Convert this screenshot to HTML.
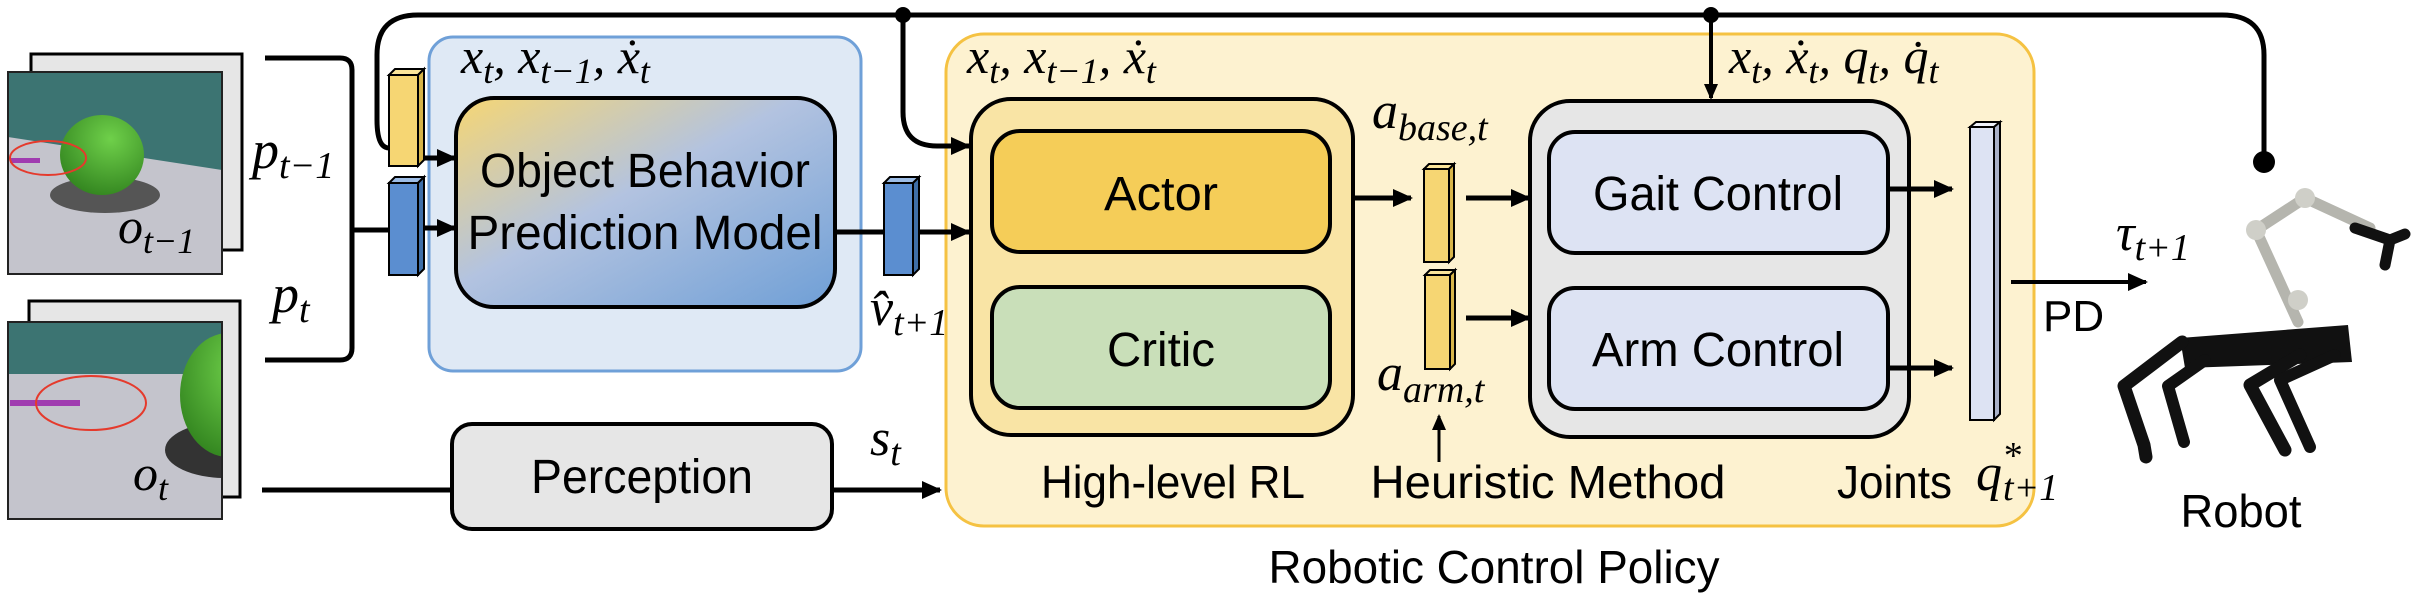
<!DOCTYPE html>
<html><head><meta charset="utf-8"><style>
html,body{margin:0;padding:0;background:#fff;}
svg{display:block;}
.m{font-family:"Liberation Serif",serif;font-style:italic;}
.s{font-family:"Liberation Sans",sans-serif;}
</style></head><body>
<svg width="2412" height="604" viewBox="0 0 2412 604" xmlns="http://www.w3.org/2000/svg">
<defs>
<marker id="ah" markerWidth="20" markerHeight="18" refX="18" refY="9" orient="auto" markerUnits="userSpaceOnUse">
<path d="M0,0 L20,9 L0,18 z" fill="#000"/></marker>
<marker id="ahs" markerWidth="16" markerHeight="14" refX="14" refY="7" orient="auto" markerUnits="userSpaceOnUse">
<path d="M0,0 L16,7 L0,14 z" fill="#000"/></marker>
<linearGradient id="g1" x1="0" y1="0" x2="1" y2="1">
<stop offset="0" stop-color="#f6d673"/><stop offset="0.45" stop-color="#b3c3e0"/><stop offset="1" stop-color="#6f9fd6"/></linearGradient>
<clipPath id="c1"><rect x="8" y="72" width="214" height="202"/></clipPath>
<clipPath id="c2"><rect x="8" y="322" width="214" height="197"/></clipPath>
<radialGradient id="sp" cx="0.6" cy="0.3" r="0.8"><stop offset="0" stop-color="#6fd04a"/><stop offset="1" stop-color="#2e7f1c"/></radialGradient>
</defs>

<!-- image stack 1 -->
<rect x="31" y="54" width="211" height="196" fill="#e6e6e6" stroke="#000" stroke-width="3"/>
<g clip-path="url(#c1)">
<rect x="8" y="72" width="214" height="202" fill="#c4c4cc"/>
<polygon points="8,72 222,72 222,170 8,137" fill="#3c7472"/>
<ellipse cx="105" cy="195" rx="55" ry="18" fill="#555"/>
<ellipse cx="102" cy="155" rx="42" ry="40" fill="url(#sp)"/>
<rect x="10" y="158" width="30" height="5" fill="#a03cb0"/>
<ellipse cx="48" cy="158" rx="38" ry="17" fill="none" stroke="#e53a2c" stroke-width="2"/>
</g>
<rect x="8" y="72" width="214" height="202" fill="none" stroke="#222" stroke-width="2"/>
<text class="m" x="118" y="243" font-size="50">o<tspan font-size="36" dy="10">t−1</tspan></text>

<!-- image stack 2 -->
<rect x="29" y="301" width="211" height="196" fill="#e6e6e6" stroke="#000" stroke-width="3"/>
<g clip-path="url(#c2)">
<rect x="8" y="322" width="214" height="197" fill="#c4c4cc"/>
<rect x="8" y="322" width="214" height="52" fill="#3c7472"/>
<ellipse cx="225" cy="450" rx="60" ry="28" fill="#333"/>
<ellipse cx="228" cy="395" rx="48" ry="62" fill="url(#sp)"/>
<rect x="10" y="400" width="70" height="6" fill="#a03cb0"/>
<ellipse cx="91" cy="403" rx="55" ry="27" fill="none" stroke="#e53a2c" stroke-width="2"/>
</g>
<rect x="8" y="322" width="214" height="197" fill="none" stroke="#222" stroke-width="2"/>
<text class="m" x="133" y="490" font-size="50">o<tspan font-size="36" dy="10">t</tspan></text>

<!-- bracket -->
<path d="M265,58 L340,58 Q352,58 352,70 L352,348 Q352,360 340,360 L265,360" fill="none" stroke="#000" stroke-width="5"/>
<line x1="352" y1="230" x2="389" y2="230" stroke="#000" stroke-width="5"/>
<text class="m" x="252" y="168" font-size="54">p<tspan font-size="38" dy="10">t−1</tspan></text>
<text class="m" x="272" y="312" font-size="54">p<tspan font-size="38" dy="10">t</tspan></text>

<!-- top feedback line -->
<path d="M2222,15 Q2264,15 2264,55 L2264,160" fill="none" stroke="#000" stroke-width="5"/>
<line x1="418" y1="15" x2="2222" y2="15" stroke="#000" stroke-width="5"/>
<circle cx="2264" cy="162" r="11" fill="#000"/>
<circle cx="903" cy="15" r="8" fill="#000"/>
<circle cx="1711" cy="15" r="8" fill="#000"/>
<path d="M418,15 Q377,15 377,55 L377,120 Q377,148 389,148" fill="none" stroke="#000" stroke-width="5"/>

<!-- OBPM container -->
<rect x="429" y="37" width="432" height="334" rx="24" fill="#dfe9f5" stroke="#6fa0d8" stroke-width="3"/>
<text class="m" x="461" y="73" font-size="50">x<tspan font-size="36" dy="10">t</tspan><tspan dy="-10">, x</tspan><tspan font-size="36" dy="10">t−1</tspan><tspan dy="-10">, ẋ</tspan><tspan font-size="36" dy="10">t</tspan></text>
<rect x="456" y="98" width="379" height="209" rx="38" fill="url(#g1)" stroke="#000" stroke-width="4"/>
<text class="s" x="645" y="187" font-size="48" text-anchor="middle" textLength="330" lengthAdjust="spacingAndGlyphs">Object Behavior</text>
<text class="s" x="645" y="249" font-size="48" text-anchor="middle" textLength="355" lengthAdjust="spacingAndGlyphs">Prediction Model</text>

<!-- small blocks left -->
<polygon points="389,75 395,69 424,69 418,75" fill="#fbe59a" stroke="#000" stroke-width="2"/>
<polygon points="418,75 424,69 424,160 418,166" fill="#d7b54a" stroke="#000" stroke-width="2"/>
<rect x="389" y="75" width="29" height="91" fill="#f6d673" stroke="#000" stroke-width="2"/>
<line x1="424" y1="158" x2="455" y2="158" stroke="#000" stroke-width="5" marker-end="url(#ah)"/>
<polygon points="389,183 395,177 424,177 418,183" fill="#9dbde6" stroke="#000" stroke-width="2"/>
<polygon points="418,183 424,177 424,269 418,275" fill="#3f6fa8" stroke="#000" stroke-width="2"/>
<rect x="389" y="183" width="29" height="92" fill="#5b8ed0" stroke="#000" stroke-width="2"/>
<line x1="424" y1="228" x2="455" y2="228" stroke="#000" stroke-width="5" marker-end="url(#ah)"/>

<!-- v hat block -->
<line x1="835" y1="232" x2="884" y2="232" stroke="#000" stroke-width="5"/>
<polygon points="884,183 890,177 919,177 913,183" fill="#9dbde6" stroke="#000" stroke-width="2"/>
<polygon points="913,183 919,177 919,269 913,275" fill="#3f6fa8" stroke="#000" stroke-width="2"/>
<rect x="884" y="183" width="29" height="92" fill="#5b8ed0" stroke="#000" stroke-width="2"/>
<text class="m" x="870" y="325" font-size="52">v̂<tspan font-size="38" dy="10">t+1</tspan></text>

<!-- Robotic control policy box -->
<rect x="946" y="34" width="1088" height="492" rx="38" fill="#fdf2d0" stroke="#f5c242" stroke-width="3"/>
<path d="M903,15 L903,112 Q903,146 937,146 L969,146" fill="none" stroke="#000" stroke-width="5" marker-end="url(#ah)"/>
<line x1="919" y1="232" x2="969" y2="232" stroke="#000" stroke-width="5" marker-end="url(#ah)"/>
<text class="m" x="967" y="73" font-size="50">x<tspan font-size="36" dy="10">t</tspan><tspan dy="-10">, x</tspan><tspan font-size="36" dy="10">t−1</tspan><tspan dy="-10">, ẋ</tspan><tspan font-size="36" dy="10">t</tspan></text>
<line x1="1711" y1="15" x2="1711" y2="98" stroke="#000" stroke-width="4" marker-end="url(#ahs)"/>
<text class="m" x="1729" y="73" font-size="50">x<tspan font-size="36" dy="10">t</tspan><tspan dy="-10">, ẋ</tspan><tspan font-size="36" dy="10">t</tspan><tspan dy="-10">, q</tspan><tspan font-size="36" dy="10">t</tspan><tspan dy="-10">, q̇</tspan><tspan font-size="36" dy="10">t</tspan></text>

<!-- High-level RL -->
<rect x="971" y="99" width="382" height="336" rx="40" fill="#f9e4a5" stroke="#000" stroke-width="4"/>
<rect x="992" y="131" width="338" height="121" rx="28" fill="#f5cd58" stroke="#000" stroke-width="4"/>
<rect x="992" y="287" width="338" height="121" rx="28" fill="#c9dfb9" stroke="#000" stroke-width="4"/>
<text class="s" x="1161" y="210" font-size="48" text-anchor="middle" textLength="114" lengthAdjust="spacingAndGlyphs">Actor</text>
<text class="s" x="1161" y="366" font-size="48" text-anchor="middle" textLength="108" lengthAdjust="spacingAndGlyphs">Critic</text>
<text class="s" x="1173" y="498" font-size="46" text-anchor="middle" textLength="264" lengthAdjust="spacingAndGlyphs">High-level RL</text>

<line x1="1353" y1="198" x2="1411" y2="198" stroke="#000" stroke-width="5" marker-end="url(#ah)"/>
<polygon points="1424,169 1429,164 1454,164 1449,169" fill="#fbe59a" stroke="#000" stroke-width="2"/>
<polygon points="1449,169 1454,164 1454,257 1449,262" fill="#d7b54a" stroke="#000" stroke-width="2"/>
<rect x="1424" y="169" width="25" height="93" fill="#f6d673" stroke="#000" stroke-width="2"/>
<polygon points="1425,275 1430,270 1455,270 1450,275" fill="#fbe59a" stroke="#000" stroke-width="2"/>
<polygon points="1450,275 1455,270 1455,364 1450,369" fill="#d7b54a" stroke="#000" stroke-width="2"/>
<rect x="1425" y="275" width="25" height="94" fill="#f6d673" stroke="#000" stroke-width="2"/>
<line x1="1466" y1="198" x2="1529" y2="198" stroke="#000" stroke-width="5" marker-end="url(#ah)"/>
<line x1="1466" y1="318" x2="1529" y2="318" stroke="#000" stroke-width="5" marker-end="url(#ah)"/>
<text class="m" x="1372" y="128" font-size="52">a<tspan font-size="38" dy="12">base,t</tspan></text>
<text class="m" x="1377" y="390" font-size="52">a<tspan font-size="38" dy="12">arm,t</tspan></text>
<line x1="1439" y1="462" x2="1439" y2="416" stroke="#000" stroke-width="3" marker-end="url(#ahs)"/>
<text class="s" x="1548" y="498" font-size="46" text-anchor="middle" textLength="355" lengthAdjust="spacingAndGlyphs">Heuristic Method</text>

<!-- Control gray box -->
<rect x="1530" y="101" width="379" height="336" rx="40" fill="#e6e6e6" stroke="#000" stroke-width="4"/>
<rect x="1549" y="132" width="339" height="121" rx="26" fill="#dde3f3" stroke="#000" stroke-width="4"/>
<rect x="1549" y="288" width="339" height="121" rx="26" fill="#dde3f3" stroke="#000" stroke-width="4"/>
<text class="s" x="1718" y="210" font-size="48" text-anchor="middle" textLength="250" lengthAdjust="spacingAndGlyphs">Gait Control</text>
<text class="s" x="1718" y="366" font-size="48" text-anchor="middle" textLength="252" lengthAdjust="spacingAndGlyphs">Arm Control</text>
<line x1="1888" y1="189" x2="1952" y2="189" stroke="#000" stroke-width="5" marker-end="url(#ah)"/>
<line x1="1888" y1="368" x2="1952" y2="368" stroke="#000" stroke-width="5" marker-end="url(#ah)"/>

<!-- Joints bar -->
<polygon points="1970,127 1976,122 2000,122 1994,127" fill="#eef1fa" stroke="#000" stroke-width="2"/>
<polygon points="1994,127 2000,122 2000,414 1994,420" fill="#a9b1c8" stroke="#000" stroke-width="2"/>
<rect x="1970" y="127" width="24" height="293" fill="#dde3f3" stroke="#000" stroke-width="2"/>
<text class="s" x="1837" y="498" font-size="46" textLength="115" lengthAdjust="spacingAndGlyphs">Joints</text>
<text class="m" x="1976" y="490" font-size="52">q<tspan font-size="38" dy="-22">*</tspan><tspan font-size="38" dy="32" dx="-18">t+1</tspan></text>

<text class="s" x="1494" y="583" font-size="46" text-anchor="middle" textLength="451" lengthAdjust="spacingAndGlyphs">Robotic Control Policy</text>

<!-- Perception -->
<line x1="262" y1="490" x2="452" y2="490" stroke="#000" stroke-width="5"/>
<rect x="452" y="424" width="380" height="105" rx="20" fill="#e6e6e6" stroke="#000" stroke-width="4"/>
<text class="s" x="642" y="493" font-size="48" text-anchor="middle" textLength="222" lengthAdjust="spacingAndGlyphs">Perception</text>
<line x1="832" y1="490" x2="940" y2="490" stroke="#000" stroke-width="5" marker-end="url(#ah)"/>
<text class="m" x="870" y="455" font-size="52">s<tspan font-size="38" dy="10">t</tspan></text>

<!-- PD -->
<line x1="2011" y1="282" x2="2146" y2="282" stroke="#000" stroke-width="4" marker-end="url(#ah)"/>
<text class="s" x="2043" y="331" font-size="44">PD</text>
<text class="m" x="2116" y="250" font-size="52">τ<tspan font-size="38" dy="10">t+1</tspan></text>

<!-- Robot -->
<g stroke-linecap="round" stroke-linejoin="round">
<path d="M2298,322 L2256,230 L2305,198 L2370,228" fill="none" stroke="#b5b5ae" stroke-width="11"/>
<circle cx="2256" cy="230" r="10" fill="#cfcfc8"/><circle cx="2305" cy="198" r="10" fill="#cfcfc8"/><circle cx="2298" cy="300" r="10" fill="#cfcfc8"/>
<path d="M2355,228 L2390,240 L2405,234 M2390,240 L2385,265" fill="none" stroke="#111" stroke-width="11"/>
<path d="M2180,338 L2348,325 L2352,362 L2185,368 Z" fill="#111"/>
<path d="M2182,342 L2124,386 L2144,445 L2146,457" fill="none" stroke="#111" stroke-width="13"/>
<path d="M2205,360 L2168,386 L2184,442" fill="none" stroke="#111" stroke-width="12"/>
<path d="M2300,355 L2250,385 L2285,450" fill="none" stroke="#111" stroke-width="13"/>
<path d="M2335,355 L2280,380 L2310,447" fill="none" stroke="#111" stroke-width="12"/>
</g>
<text class="s" x="2241" y="527" font-size="46" text-anchor="middle" textLength="121" lengthAdjust="spacingAndGlyphs">Robot</text>
</svg>
</body></html>
